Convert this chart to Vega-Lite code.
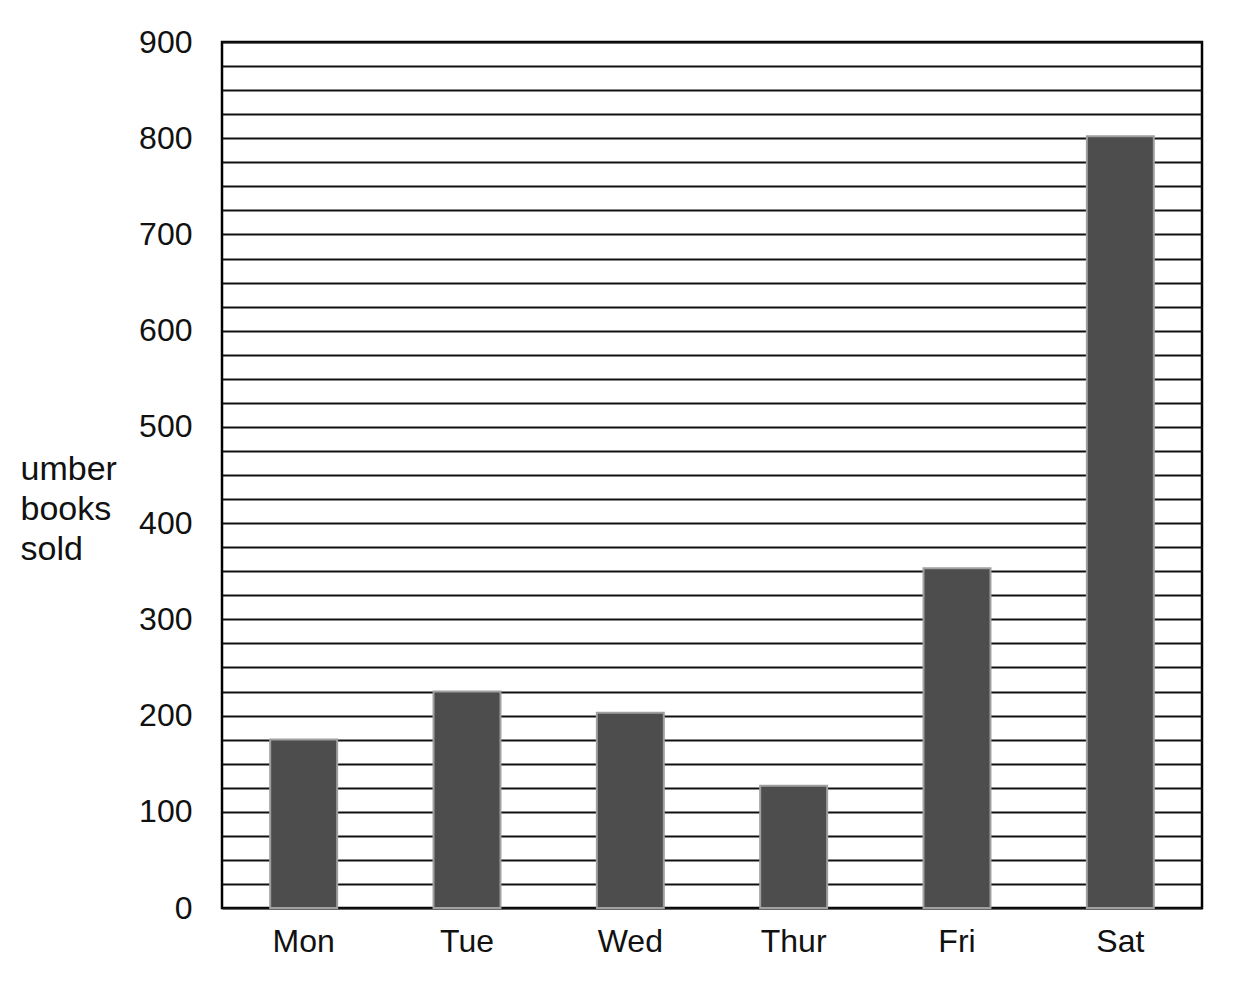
{
  "$schema": "https://vega.github.io/schema/vega-lite/v6.json",
  "width": 980,
  "height": 866,
  "autosize": {"type": "none"},
  "padding": {"left": 222, "top": 42, "right": 44, "bottom": 83},
  "background": "white",
  "config": {
    "view": {"stroke": "black", "strokeWidth": 2.5},
    "font": "Liberation Sans"
  },
  "data": {
    "values": [
      {"day": "Mon", "books": 175},
      {"day": "Tue", "books": 225},
      {"day": "Wed", "books": 203},
      {"day": "Thur", "books": 127},
      {"day": "Fri", "books": 353},
      {"day": "Sat", "books": 802}
    ]
  },
  "mark": {"type": "bar", "color": "#4d4d4d", "stroke": "#a0a0a0", "strokeWidth": 2},
  "encoding": {
    "x": {
      "field": "day",
      "type": "nominal",
      "sort": null,
      "scale": {"paddingInner": 0.59, "paddingOuter": 0.295},
      "axis": {
        "title": null,
        "labelAngle": 0,
        "labelFontSize": 32,
        "labelColor": "#111",
        "labelPadding": 18,
        "ticks": false,
        "domain": false,
        "grid": false
      }
    },
    "y": {
      "field": "books",
      "type": "quantitative",
      "scale": {"domain": [0, 900], "nice": false},
      "axis": {
        "title": ["umber", "books", "sold"],
        "titleAngle": 0,
        "titleAlign": "left",
        "titleBaseline": "top",
        "titleX": -202,
        "titleY": 410,
        "titleFontSize": 34,
        "titleFontWeight": "normal",
        "titleColor": "#111",
        "titleLineHeight": 40,
        "values": [0,25,50,75,100,125,150,175,200,225,250,275,300,325,350,375,400,425,450,475,500,525,550,575,600,625,650,675,700,725,750,775,800,825,850,875,900],
        "labelExpr": "datum.value % 100 === 0 ? datum.label : ''",
        "labelFontSize": 32,
        "labelColor": "#111",
        "labelPadding": 30,
        "ticks": false,
        "domain": false,
        "grid": true,
        "gridColor": "#111",
        "gridWidth": 2,
        "gridOpacity": 1
      }
    }
  }
}
